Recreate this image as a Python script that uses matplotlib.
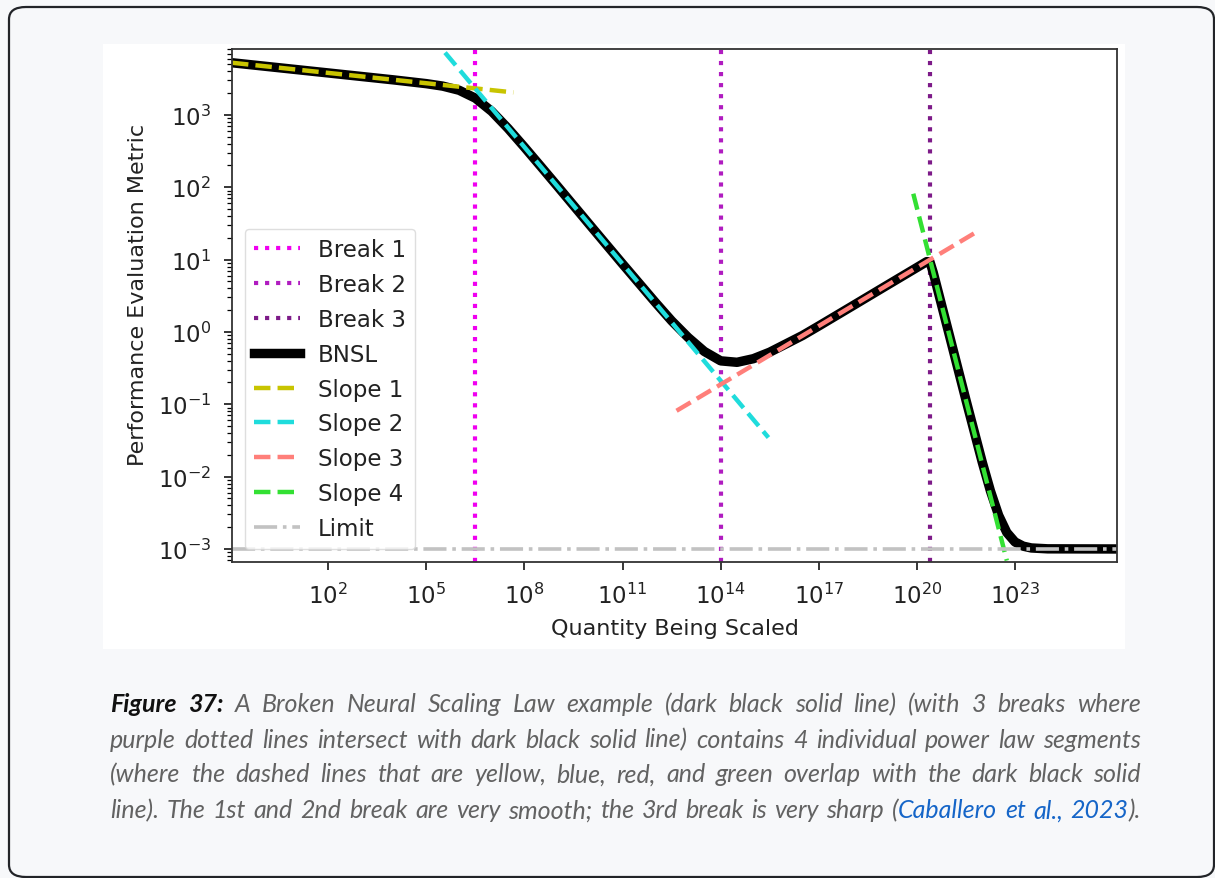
import matplotlib
matplotlib.use("Agg")
import numpy as np
import matplotlib.pyplot as plt
from matplotlib.patches import FancyBboxPatch, Rectangle
from matplotlib.ticker import FixedLocator, NullLocator, LogLocator

# BNSL curve as (log10 x, log10 y)
bnsl_logx = [-0.945, 2.0, 4.0, 5.0, 5.5, 6.0, 6.5, 7.0, 7.5, 8.0, 8.5, 9.0,
             10.0, 11.0, 12.0, 12.5, 13.0, 13.5, 14.0, 14.5, 15.0, 15.5, 16.0,
             16.5, 17.0, 18.0, 19.0, 20.0, 20.3, 20.4, 20.5, 21.0, 21.5, 22.0,
             22.25, 22.5, 22.75, 23.0, 23.25, 23.5, 24.0, 26.12]
bnsl_logy = [3.720, 3.579, 3.483, 3.431, 3.397, 3.340, 3.230, 3.047, 2.811, 2.552,
             2.286, 2.018, 1.477, 0.939, 0.409, 0.153, -0.075, -0.270, -0.400,
             -0.420, -0.370, -0.280, -0.165, -0.050, 0.082, 0.351, 0.621, 0.890,
             0.971, 0.967, 0.821, -0.057, -0.940, -1.802, -2.199, -2.535, -2.772,
             -2.903, -2.961, -2.986, -2.998, -3.000]

# asymptotic power-law segments (end points, log10)
slope_names = ["Slope 1", "Slope 2", "Slope 3", "Slope 4"]
slope_colors = ["#c8c400", "#1fdcdc", "#ff7f7a", "#33e033"]
slope_logx = [[-0.945, 7.66], [5.57, 15.46], [12.65, 21.78], [19.89, 22.75]]
slope_logy = [[3.72, 3.31], [3.86, -1.46], [-1.09, 1.37], [1.91, -3.16]]

# breaks and limit
break_names = ["Break 1", "Break 2", "Break 3"]
break_colors = ["#f000f0", "#b01cc0", "#7d1a88"]
break_logx = [6.5, 14.0, 20.4]
limit_y = 1e-3

xtick_exp = [2, 5, 8, 11, 14, 17, 20, 23]
ytick_exp = [-3, -2, -1, 0, 1, 2, 3]

GRAY = "#626262"
BLUE = "#1565c8"
caption_lines = [
    [("Figure 37:", "#111111", "bold"),
     (" A Broken Neural Scaling Law example (dark black solid line) (with 3 breaks where", GRAY, "normal")],
    [("purple dotted lines intersect with dark black solid line) contains 4 individual power law segments", GRAY, "normal")],
    [("(where the dashed lines that are yellow, blue, red, and green overlap with the dark black solid", GRAY, "normal")],
    [("line). The 1st and 2nd break are very smooth; the 3rd break is very sharp (", GRAY, "normal"),
     ("Caballero et al., 2023", BLUE, "normal"), (").", GRAY, "normal")],
]
caption_y = [705, 740, 775, 811]

W, H = 1215, 879
fig = plt.figure(figsize=(W / 100, H / 100), dpi=100)
fig.patch.set_facecolor("#f7f8fa")

# card border and white picture area
card = FancyBboxPatch((9 / W, 1 - 878 / H), (1214 - 9) / W, (878 - 8) / H,
                      boxstyle="round,pad=0,rounding_size=0.014",
                      transform=fig.transFigure, facecolor="#f7f8fa",
                      edgecolor="#222428", linewidth=1.6, zorder=0)
fig.patches.append(card)
fig.patches.append(Rectangle((103 / W, 1 - 650 / H), (1125 - 103) / W, (650 - 45) / H,
                             transform=fig.transFigure, facecolor="white",
                             edgecolor="none", zorder=1))

ax = fig.add_axes([232 / W, 1 - 563 / H, (1117 - 232) / W, (563 - 50) / H])
ax.set_zorder(2)

for name, color, lx in zip(break_names, break_colors, break_logx):
    ax.axvline(10 ** lx, color=color, linestyle=":", linewidth=3, label=name)

ax.plot(10 ** np.array(bnsl_logx), 10 ** np.array(bnsl_logy),
        color="black", linewidth=6.8, label="BNSL", solid_joinstyle="round")

for name, color, lx, ly in zip(slope_names, slope_colors, slope_logx, slope_logy):
    ax.plot(10 ** np.array(lx), 10 ** np.array(ly), color=color,
            linestyle="--", linewidth=3.2, label=name)

ax.axhline(limit_y, color="#c2c2c2", linestyle="-.", linewidth=2.6, label="Limit")

ax.set_xscale("log")
ax.set_yscale("log")
ax.set_xlim(10 ** -0.945, 10 ** 26.12)
ax.set_ylim(10 ** -3.18, 10 ** 3.91)
ax.xaxis.set_major_locator(FixedLocator([10.0 ** e for e in xtick_exp]))
ax.xaxis.set_minor_locator(NullLocator())
ax.yaxis.set_major_locator(FixedLocator([10.0 ** e for e in ytick_exp]))
ax.yaxis.set_minor_locator(LogLocator(base=10, subs=np.arange(2, 10), numticks=30))
ax.tick_params(which="major", length=6, width=1.1, labelsize=16.5, pad=9,
               labelcolor="#222222")
ax.tick_params(which="minor", length=3.5, width=0.9)
for sp in ax.spines.values():
    sp.set_linewidth(1.3)
    sp.set_color("#333333")

ax.set_xlabel("Quantity Being Scaled", fontsize=16, color="#222222")
ax.set_ylabel("Performance Evaluation Metric", fontsize=16, color="#222222")
ax.xaxis.set_label_coords(0.5, -0.109)
ax.yaxis.set_label_coords(-0.095, 0.522)

leg = ax.legend(loc="lower left", fontsize=16.5, framealpha=0.8, edgecolor="#d6d6d6",
                fancybox=True, handlelength=2.0, labelspacing=0.52, borderaxespad=0.55)
for t in leg.get_texts():
    t.set_color("#222222")

# caption, justified line by line
renderer = fig.canvas.get_renderer()
left_px, right_px = 110, 1141
for runs, ypx in zip(caption_lines, caption_y):
    words = [[]]
    for text, color, weight in runs:
        parts = text.split(" ")
        for i, p in enumerate(parts):
            if i > 0:
                words.append([])
            if p:
                words[-1].append((p, color, weight))
    words = [w for w in words if w]
    items = []
    total = 0.0
    for w in words:
        segs = []
        for p, color, weight in w:
            t = fig.text(0, 1 - ypx / H, p, fontsize=18, family="Lato", style="italic",
                         weight=weight, color=color, va="center", ha="left", zorder=3)
            wd = t.get_window_extent(renderer=renderer).width
            segs.append((t, wd))
            total += wd
        items.append(segs)
    gap = (right_px - left_px - total) / max(len(items) - 1, 1)
    x = left_px
    for segs in items:
        for t, wd in segs:
            t.set_x(x / W)
            x += wd
        x += gap

fig.savefig("out.png", dpi=100, facecolor=fig.get_facecolor())
